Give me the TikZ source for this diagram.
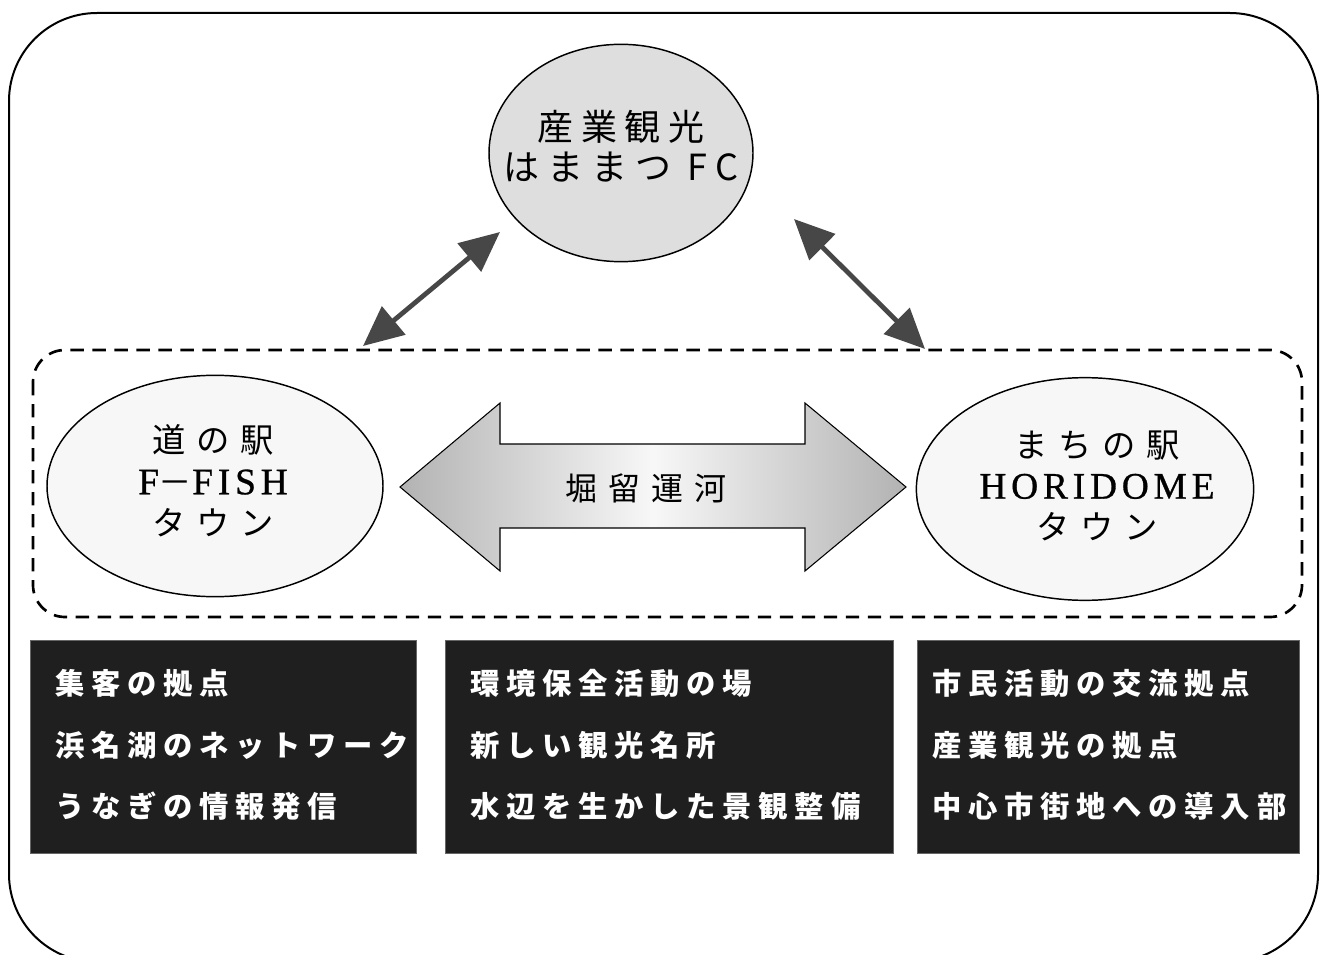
\documentclass[tikz,border=0pt]{standalone}
\usepackage{fontspec}
\setmainfont{Liberation Serif}
\newfontfamily\topfont[LetterSpace=22]{Noto Sans CJK JP}
\newfontfamily\ovalfont[LetterSpace=32]{Noto Sans CJK JP}
\newfontfamily\canalfont[LetterSpace=34]{Noto Sans CJK JP}
\newfontfamily\boxfont[LetterSpace=23]{Noto Sans CJK JP}
\newfontfamily\latinfont[LetterSpace=13,FakeBold=0.8]{Liberation Serif}
\usetikzlibrary{shapes.geometric,arrows.meta}

\begin{document}
\begin{tikzpicture}[x=0.75pt,y=-0.75pt,
    oval/.style={draw,ellipse,line width=1.1pt,inner sep=0pt},
    ovaltext/.style={align=center,inner sep=0pt,font=\fontsize{25}{31}\ovalfont},
    latin/.style={font=\fontsize{28}{31}\latinfont},
    infobox/.style={fill=black!88,draw=black!60,inner sep=0pt,anchor=north west,minimum height=160pt},
    infoline/.style={anchor=west,inner sep=0pt,text=white,font=\fontsize{22}{26}\boxfont\bfseries},
    link/.style={{Triangle[length=30pt,width=27pt]}-{Triangle[length=30pt,width=27pt]},line width=3.6pt,draw=black!72}]
  \useasboundingbox (0,0) rectangle (1327,955);
  \draw[line width=1.5pt,rounded corners=66pt] (9,13) rectangle (1318,962); % outer frame
  \draw[dash pattern=on 10pt off 6.5pt,line width=2pt,rounded corners=24pt] (33,350) rectangle (1302,617); % canal area
  % stations
  \node[oval,fill=black!13,minimum width=198pt,minimum height=163pt] (fc) at (621,153) {};
  \node[align=center,inner sep=0pt,font=\fontsize{27}{30}\topfont] (fclabel) at (621,146) {産業観光\\はままつ FC};
  \node[oval,fill=black!3,minimum width=252pt,minimum height=166pt] (ffish) at (215,486) {};
  \node[ovaltext] (ffishlabel) at (213,481) {道の駅\\{\fontsize{28}{31}\latinfont F}－{\fontsize{28}{31}\latinfont FISH}\\タウン};
  \node[oval,fill=black!3,minimum width=253pt,minimum height=167pt] (horidome) at (1085,489) {};
  \node[ovaltext] (horidomelabel) at (1097,486) {まちの駅\\{\fontsize{28}{31}\latinfont HORIDOME}\\タウン};
  % canal arrow
  \draw[line width=0.8pt,left color=black!30,right color=black!30,middle color=black!3] (400,487) -- (500,403) -- (500,444) -- (805,444) -- (805,403) -- (906,487) -- (805,571) -- (805,528) -- (500,528) -- (500,571) -- cycle;
  \node[inner sep=0pt,font=\fontsize{24}{28}\canalfont] (canal) at (646,488) {堀留運河};
  % links to the top
  \coordinate (fcleft) at (500,232);
  \coordinate (arealeft) at (363,346);
  \coordinate (fcright) at (794,219);
  \coordinate (arearight) at (925,349);
  \draw[link] (arealeft) -- (fcleft);
  \draw[link] (fcright) -- (arearight);
  % roles
  \node[infobox,minimum width=289.5pt] (boxa) at (30,640) {};
  \node[infobox,minimum width=336pt] (boxb) at (445,640) {};
  \node[infobox,minimum width=286.5pt] (boxc) at (917,640) {};
  \node[infoline] (a1) at (55,683) {集客の拠点};
  \node[infoline] (a2) at (55,745) {浜名湖のネットワーク};
  \node[infoline] (a3) at (55,806) {うなぎの情報発信};
  \node[infoline] (b1) at (470,683) {環境保全活動の場};
  \node[infoline] (b2) at (470,745) {新しい観光名所};
  \node[infoline] (b3) at (470,806) {水辺を生かした景観整備};
  \node[infoline] (c1) at (932,683) {市民活動の交流拠点};
  \node[infoline] (c2) at (932,745) {産業観光の拠点};
  \node[infoline] (c3) at (932,806) {中心市街地への導入部};
\end{tikzpicture}
\end{document}
